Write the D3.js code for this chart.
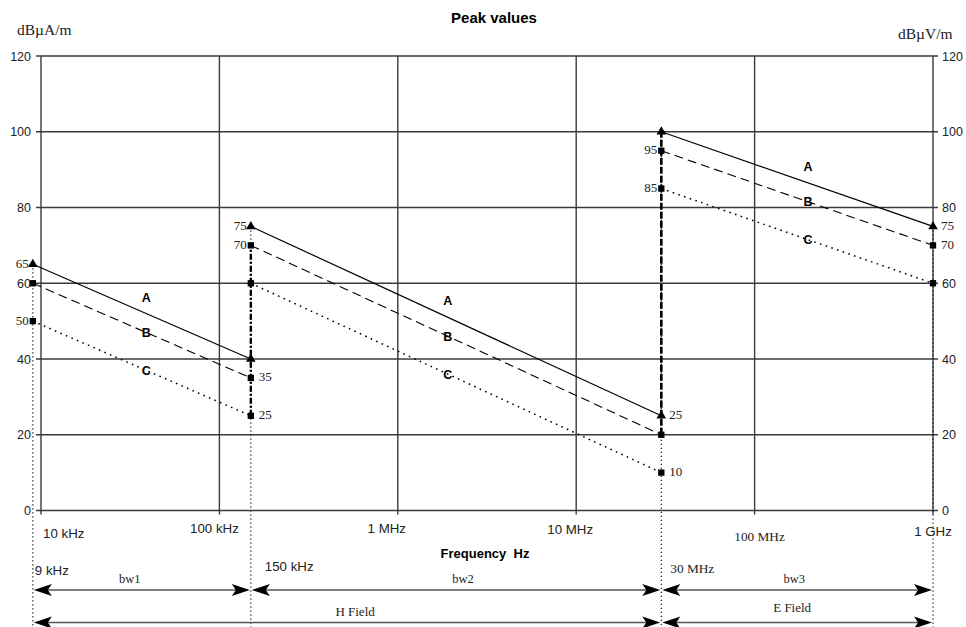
<!DOCTYPE html>
<html><head><meta charset="utf-8">
<script src="https://cdn.jsdelivr.net/npm/d3@7"></script>
<style>
html,body{margin:0;padding:0;background:#fff;}
svg{display:block;}
.sans{font-family:"Liberation Sans",Arial,sans-serif;}
.serif{font-family:"Liberation Serif","Times New Roman",serif;}
</style></head>
<body>
<svg id="chart" width="966" height="627"></svg>
<script>
// ---- data ----
const bandEdges = [9e3, 1.5e5, 3e7, 1e9];           // band start/end frequencies (Hz)
const seriesNames = ["A", "B", "C"];
const seriesA = [[65, 40], [75, 25], [100, 75]];     // dB values at band start / end
const seriesB = [[60, 35], [70, 20], [95, 70]];
const seriesC = [[50, 25], [60, 10], [85, 60]];
const yTicks = [0, 20, 40, 60, 80, 100, 120];
const xTicks = [1e4, 1e5, 1e6, 1e7, 1e8, 1e9];
const xTickLabels = ["10 kHz", "100 kHz", "1 MHz", "10 MHz", "100 MHz", "1 GHz"];
const bandLabels = ["9 kHz", "150 kHz", "30 MHz"];
const bwLabels = ["bw1", "bw2", "bw3"];
const fieldLabels = ["H Field", "E Field"];
// value annotations: [frequency, value, side]
const valueLabels = [
  [9e3, 65, "l"], [9e3, 50, "l"],
  [1.5e5, 35, "r"], [1.5e5, 25, "r"], [1.5e5, 75, "l"], [1.5e5, 70, "l"],
  [3e7, 95, "l"], [3e7, 85, "l"], [3e7, 25, "r"], [3e7, 10, "r"],
  [1e9, 75, "r"], [1e9, 70, "r"]
];

// ---- layout ----
const svg = d3.select("#chart");
const x = d3.scaleLog().domain([1e4, 1e9]).range([41, 933]);
const y = d3.scaleLinear().domain([0, 120]).range([510.5, 56]);
const gridColor = "#3a3a3a";
const bottom = 627;

// grid
svg.append("g").selectAll("line").data(yTicks).join("line")
  .attr("x1", x(1e4) - 5).attr("x2", x(1e9) + 5)
  .attr("y1", d => y(d)).attr("y2", d => y(d))
  .attr("stroke", gridColor).attr("stroke-width", 1.4);
svg.append("g").selectAll("line").data(xTicks).join("line")
  .attr("x1", d => x(d)).attr("x2", d => x(d))
  .attr("y1", y(120)).attr("y2", y(0) + 4)
  .attr("stroke", gridColor).attr("stroke-width", 1.4);

// y tick labels
svg.append("g").selectAll("text").data(yTicks).join("text")
  .attr("class", "sans").attr("font-size", 12.5).attr("fill", "#222")
  .attr("x", 31).attr("y", d => y(d) + 4.5).attr("text-anchor", "end").text(d => d);
svg.append("g").selectAll("text").data(yTicks).join("text")
  .attr("class", "sans").attr("font-size", 12.5).attr("fill", "#222")
  .attr("x", 942).attr("y", d => y(d) + 4.5).text(d => d);

// x tick labels (individual offsets as in the original)
const xlStyle = [
  {dx: 2, y: 538, a: "start", f: "sans"},
  {dx: -5, y: 533, a: "middle", f: "sans"},
  {dx: -11, y: 533, a: "middle", f: "sans"},
  {dx: -6, y: 534, a: "middle", f: "sans"},
  {dx: 5, y: 541, a: "middle", f: "serif"},
  {dx: 0, y: 536, a: "middle", f: "sans"}
];
svg.append("g").selectAll("text").data(xTicks).join("text")
  .attr("class", (d, i) => xlStyle[i].f).attr("font-size", 13.3).attr("fill", "#222")
  .attr("x", (d, i) => x(d) + xlStyle[i].dx).attr("y", (d, i) => xlStyle[i].y)
  .attr("text-anchor", (d, i) => xlStyle[i].a).text((d, i) => xTickLabels[i]);

// titles
svg.append("text").attr("class", "sans").attr("font-size", 15).attr("font-weight", "bold")
  .attr("x", 494).attr("y", 23).attr("text-anchor", "middle").text("Peak values");
svg.append("text").attr("class", "serif").attr("font-size", 15.5).attr("fill", "#222")
  .attr("x", 17).attr("y", 35).text("dBµA/m");
svg.append("text").attr("class", "serif").attr("font-size", 15.5).attr("fill", "#222")
  .attr("x", 898).attr("y", 39).text("dBµV/m");
svg.append("text").attr("class", "sans").attr("font-size", 13).attr("font-weight", "bold")
  .attr("x", 485).attr("y", 558).attr("text-anchor", "middle").text("Frequency\u00a0\u00a0Hz");

// vertical dotted lines at band edges
const edgeTop = [seriesA[0][0], seriesA[1][0], seriesA[2][0], seriesA[2][1]];
svg.append("g").selectAll("line").data(bandEdges).join("line")
  .attr("x1", d => x(d)).attr("x2", d => x(d))
  .attr("y1", (d, i) => y(edgeTop[i])).attr("y2", bottom)
  .attr("stroke", "#222").attr("stroke-width", 1.3).attr("stroke-dasharray", "1.3,2.7");

// thick transition connectors
svg.append("line").attr("x1", x(bandEdges[1])).attr("x2", x(bandEdges[1]))
  .attr("y1", y(seriesC[0][1])).attr("y2", y(seriesB[1][0]))
  .attr("stroke", "#000").attr("stroke-width", 2.4).attr("stroke-dasharray", "6,2,2,2");
svg.append("line").attr("x1", x(bandEdges[2])).attr("x2", x(bandEdges[2]))
  .attr("y1", y(seriesB[1][1])).attr("y2", y(seriesA[2][0]))
  .attr("stroke", "#000").attr("stroke-width", 2.6).attr("stroke-dasharray", "7,2");

// series lines
const allSeries = [seriesA, seriesB, seriesC];
const dashes = [null, "9,5", "1.6,4.4"];
const widths = [1.2, 1.1, 1.5];
allSeries.forEach((s, si) => {
  s.forEach((seg, bi) => {
    svg.append("line")
      .attr("x1", x(bandEdges[bi])).attr("y1", y(seg[0]))
      .attr("x2", x(bandEdges[bi + 1])).attr("y2", y(seg[1]))
      .attr("stroke", "#000").attr("stroke-width", widths[si])
      .attr("stroke-dasharray", dashes[si]);
  });
});

// markers
const triangle = d3.symbol().type(d3.symbolTriangle).size(40);
const square = d3.symbol().type(d3.symbolSquare).size(40);
allSeries.forEach((s, si) => {
  s.forEach((seg, bi) => {
    [[bandEdges[bi], seg[0]], [bandEdges[bi + 1], seg[1]]].forEach(p => {
      svg.append("path").attr("d", si === 0 ? triangle() : square())
        .attr("transform", `translate(${x(p[0])},${y(p[1])})`).attr("fill", "#000");
    });
  });
});

// series labels
const labelT = [0.52, 0.48, 0.54];
allSeries.forEach((s, si) => {
  s.forEach((seg, bi) => {
    const x0 = x(bandEdges[bi]), x1 = x(bandEdges[bi + 1]);
    const t = labelT[bi];
    const px = x0 + (x1 - x0) * t;
    const py = y(seg[0] + (seg[1] - seg[0]) * t);
    svg.append("text").attr("class", "sans").attr("font-size", 12.5).attr("font-weight", "bold")
      .attr("x", px).attr("y", si === 0 ? py - 12 : py + 4.5).attr("text-anchor", "middle")
      .text(seriesNames[si]);
  });
});

// value annotations
svg.append("g").selectAll("text").data(valueLabels).join("text")
  .attr("class", "serif").attr("font-size", 13).attr("fill", "#222")
  .attr("x", d => d[2] === "l" ? x(d[0]) - 4 : x(d[0]) + 8)
  .attr("y", d => y(d[1]) + 3.5)
  .attr("text-anchor", d => d[2] === "l" ? "end" : "start").text(d => d[1]);

// band edge labels
const blStyle = [{dx: 2, y: 575, f: "sans"}, {dx: 14, y: 571, f: "sans"}, {dx: 9, y: 573, f: "serif"}];
svg.append("g").selectAll("text").data(bandLabels).join("text")
  .attr("class", (d, i) => blStyle[i].f).attr("font-size", 13.3).attr("fill", "#222")
  .attr("x", (d, i) => x(bandEdges[i]) + blStyle[i].dx).attr("y", (d, i) => blStyle[i].y)
  .text(d => d);

// arrows
function arrowHead(tx, ty, dir) {
  // dir = -1 pointing left, 1 pointing right
  const L = 18, H = 6, N = 14;
  return `M${tx},${ty} L${tx - dir * L},${ty - H} L${tx - dir * N},${ty} L${tx - dir * L},${ty + H} Z`;
}
function drawArrow(xa, xb, yy) {
  svg.append("line").attr("x1", xa + 6).attr("x2", xb - 6).attr("y1", yy).attr("y2", yy)
    .attr("stroke", "#555").attr("stroke-width", 1.6);
  svg.append("path").attr("d", arrowHead(xa + 1, yy, -1)).attr("fill", "#000");
  svg.append("path").attr("d", arrowHead(xb - 1, yy, 1)).attr("fill", "#000");
}
const rowBw = 590, rowField = 622.5;
for (let i = 0; i < 3; i++) {
  drawArrow(x(bandEdges[i]), x(bandEdges[i + 1]), rowBw);
  const mid = (x(bandEdges[i]) + x(bandEdges[i + 1])) / 2;
  svg.append("text").attr("class", "serif").attr("font-size", 12.5).attr("fill", "#222")
    .attr("x", mid + [-12, 7, -3][i]).attr("y", 583).attr("text-anchor", "middle").text(bwLabels[i]);
}
const fieldBounds = [[bandEdges[0], bandEdges[2]], [bandEdges[2], bandEdges[3]]];
fieldBounds.forEach((b, i) => {
  drawArrow(x(b[0]), x(b[1]), rowField);
  const mid = (x(b[0]) + x(b[1])) / 2;
  svg.append("text").attr("class", "serif").attr("font-size", 13).attr("fill", "#222")
    .attr("x", mid + [8, -5][i]).attr("y", [616, 612][i]).attr("text-anchor", "middle").text(fieldLabels[i]);
});
</script>
</body></html>
